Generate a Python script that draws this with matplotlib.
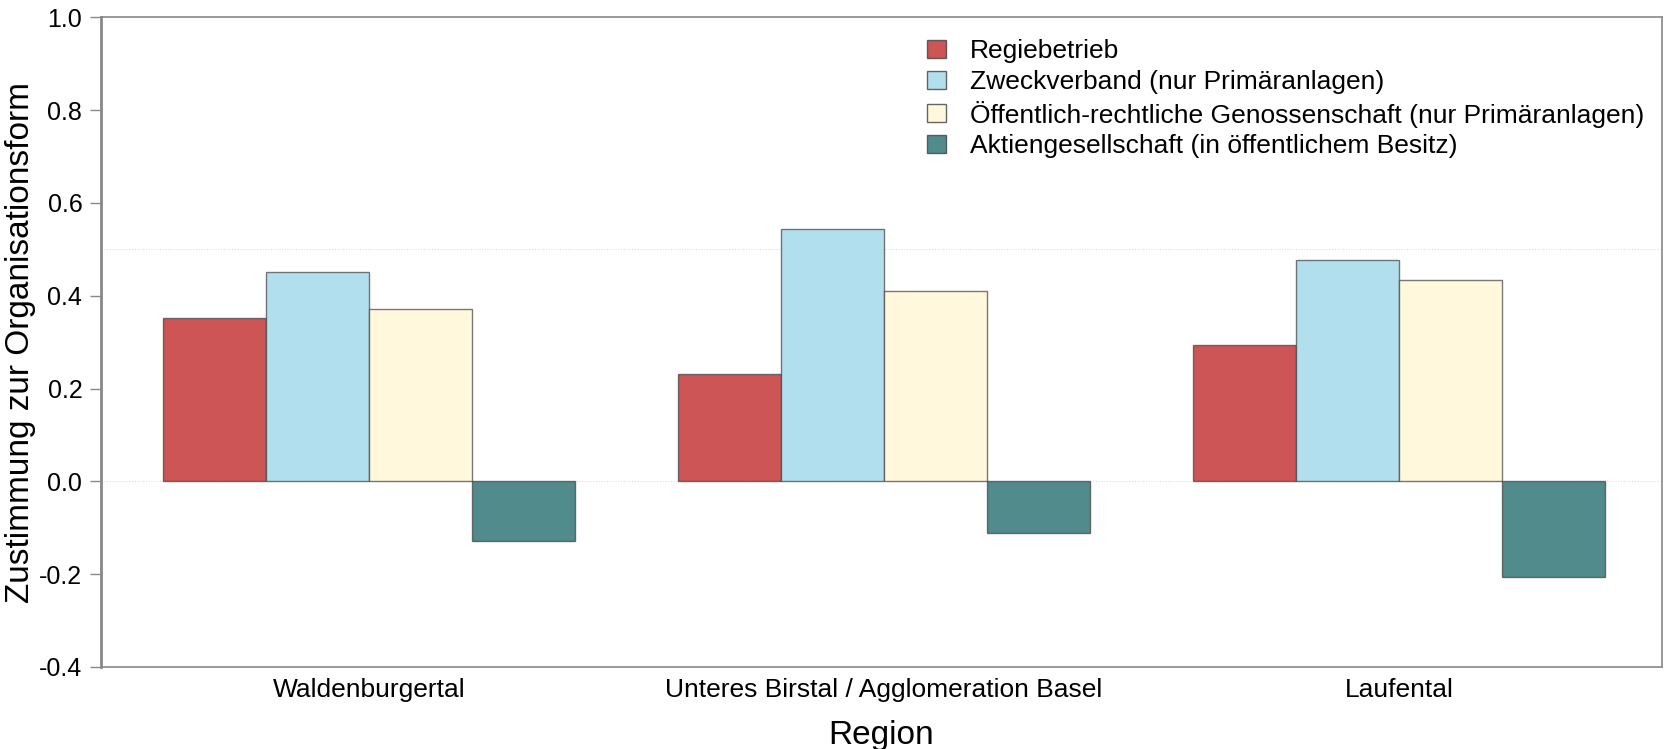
import matplotlib
matplotlib.use("Agg")
import matplotlib.pyplot as plt
import numpy as np
from matplotlib.patches import Patch

regions = ["Waldenburgertal", "Unteres Birstal / Agglomeration Basel", "Laufental"]
series_names = [
    "Regiebetrieb",
    "Zweckverband (nur Primäranlagen)",
    "Öffentlich-rechtliche Genossenschaft (nur Primäranlagen)",
    "Aktiengesellschaft (in öffentlichem Besitz)",
]
regiebetrieb = [0.352, 0.231, 0.293]
zweckverband = [0.450, 0.544, 0.477]
genossenschaft = [0.371, 0.410, 0.433]
aktiengesellschaft = [-0.129, -0.112, -0.207]
colors = ["#CD5555", "#B2DFEE", "#FFF8DC", "#528B8B"]
yticks = [-0.4, -0.2, 0.0, 0.2, 0.4, 0.6, 0.8, 1.0]

plt.rcParams['font.family'] = ["Liberation Sans", 'DejaVu Sans']

fig = plt.figure(figsize=(16.67, 7.49), dpi=100)
ax = fig.add_axes([0.0606, 0.1095, 0.997 - 0.0606, 0.977 - 0.1095])

values = [regiebetrieb, zweckverband, genossenschaft, aktiengesellschaft]
x = np.arange(len(regions))
w = 0.2
for i, (vals, c) in enumerate(zip(values, colors)):
    ax.bar(x + (i - 1.5) * w, vals, width=w, color=c, edgecolor=(0.25, 0.25, 0.25, 0.7),
           linewidth=1.0, zorder=3)

for yv in [0.0, 0.5]:
    ax.axhline(yv, color="#dddddd", linestyle=(0, (1, 1.5)), linewidth=0.8, zorder=1)

ax.set_xlim(-0.52, 2.51)
ax.set_ylim(-0.4, 1.0)
ax.set_yticks(yticks)
ax.set_yticklabels([f"{v:.1f}" for v in yticks])
ax.set_xticks(x)
ax.set_xticklabels(regions)
ax.tick_params(axis="y", length=8, width=1, color="#888888", labelsize=18, pad=5.5)
ax.tick_params(axis="x", length=0, labelsize=19, pad=8)
for s in ax.spines.values():
    s.set_color("#888888")
    s.set_linewidth(1.2)
ax.spines["left"].set_linewidth(2.0)

ax.set_ylabel("Zustimmung zur Organisationsform", fontsize=24)
ax.yaxis.set_label_coords(-0.0415, 0.5)
ax.set_xlabel("Region", fontsize=24, labelpad=13)

handles = [Patch(facecolor=c, edgecolor=(0.25, 0.25, 0.25, 0.8), linewidth=1.0) for c in colors]
leg = ax.legend(handles, series_names, loc="upper left", bbox_to_anchor=(0.529, 0.966),
                frameon=False, fontsize=19, handlelength=0.72, handleheight=0.68,
                handletextpad=0.92, labelspacing=0.25, borderaxespad=0, borderpad=0)

fig.savefig("out.png", dpi=100)
